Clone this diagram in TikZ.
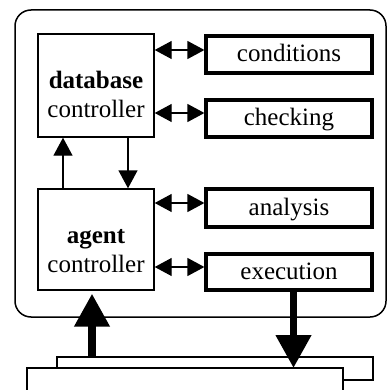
\documentclass[tikz,border=0pt]{standalone}
\usepackage{fontspec}
\setmainfont{Liberation Serif}
\usetikzlibrary{arrows.meta}
\begin{document}
\begin{tikzpicture}[x=1pt,y=-1pt,
  txt/.style={font=\fontsize{25pt}{29pt}\selectfont, inner sep=0pt},
  lbox/.style={draw, line width=1.4pt, inner sep=0pt, fill=white},
  rbox/.style={draw, line width=3.2pt, inner sep=0pt, minimum width=166pt,
    font=\fontsize{25pt}{29pt}\selectfont, text height=18pt, text depth=4pt},
  dbl/.style={line width=1.3pt, {Triangle[length=17pt,width=18pt]}-{Triangle[length=17pt,width=18pt]}},
  thin arrow/.style={line width=1.4pt, -{Triangle[length=18pt,width=19pt]}},
  fat arrow/.style={line width=7.5pt, -{Triangle[length=33pt,width=34pt]}},
  bottombox/.style={draw, line width=1.4pt, fill=white}]
\useasboundingbox (0,0) rectangle (388,390);
% outer rounded frame
\draw[line width=1.5pt, rounded corners=16pt] (15,10) rectangle (386,317);
% controllers
\node[lbox, minimum width=116pt, minimum height=103pt] (db) at (96,85.5) {};
\node[lbox, minimum width=116pt, minimum height=101pt] (ag) at (96,239.5) {};
\node[txt, anchor=base] (dbt1) at (96,89) {\textbf{database}};
\node[txt, anchor=base] (dbt2) at (96,118) {controller};
\node[txt, anchor=base] (agt1) at (96,243) {\textbf{agent}};
\node[txt, anchor=base] (agt2) at (96,272) {controller};
% right boxes
\node[rbox, minimum height=37pt] (cond) at (289,54.5) {conditions};
\node[rbox, minimum height=37pt] (chk) at (289,118.5) {checking};
\node[rbox, minimum height=38pt] (ana) at (289,208) {analysis};
\node[rbox, minimum height=36pt] (exe) at (289,272) {execution};
% double arrows
\coordinate (c1) at ([yshift=4.5pt]cond.west);
\coordinate (c2) at ([yshift=5.5pt]chk.west);
\coordinate (c3) at ([yshift=5pt]ana.west);
\coordinate (c4) at ([yshift=5pt]exe.west);
\draw[dbl] (c1 -| db.east) -- (c1);
\draw[dbl] (c2 -| db.east) -- (c2);
\draw[dbl] (c3 -| ag.east) -- (c3);
\draw[dbl] (c4 -| ag.east) -- (c4);
% arrows between controllers
\coordinate (up) at ([xshift=-33pt]ag.north);
\coordinate (dn) at ([xshift=32pt]db.south);
\draw[thin arrow] (up) -- (up |- db.south);
\draw[thin arrow] (dn) -- (dn |- ag.north);
% bottom boxes
\node[bottombox, minimum width=316pt, minimum height=23pt, inner sep=0pt] (back) at (215,368.5) {};
\draw[bottombox] (27,392) -- (27,368) coordinate (fl) -- (343,368) coordinate (fr) -- (343,392);
% thick arrows
\coordinate (fu) at ([xshift=-4pt,yshift=-3pt]ag.south);
\coordinate (fd) at ([xshift=4.5pt]exe.south);
\draw[fat arrow] (fu |- back.north) -- (fu);
\draw[fat arrow] (fd) -- (fd |- fl);
\end{tikzpicture}
\end{document}
